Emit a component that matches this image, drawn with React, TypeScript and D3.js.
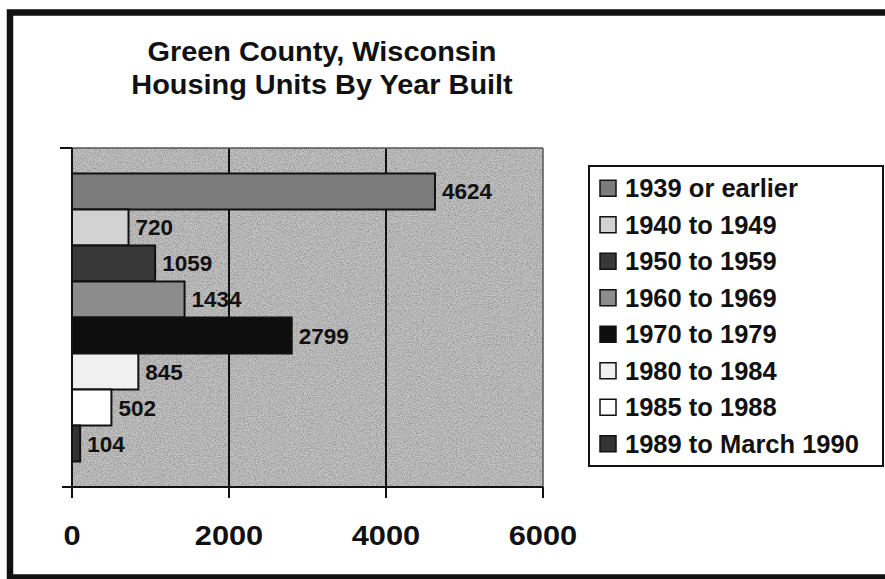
import React from "react";
import * as d3 from "d3";

const titleLines = ["Green County, Wisconsin", "Housing Units By Year Built"];
const categories = ["Green County"];
const seriesNames = [
  "1939 or earlier",
  "1940 to 1949",
  "1950 to 1959",
  "1960 to 1969",
  "1970 to 1979",
  "1980 to 1984",
  "1985 to 1988",
  "1989 to March 1990",
];
const seriesValues = [4624, 720, 1059, 1434, 2799, 845, 502, 104];
const seriesColors = ["#7c7c7c", "#d2d2d2", "#383838", "#8c8c8c", "#0e0e0e", "#f0f0f0", "#ffffff", "#333333"];
const tickValues = [0, 2000, 4000, 6000];

const W = 885;
const H = 579;
const plot = { left: 72, right: 543, top: 148, bottom: 487 };
const FONT = "'Liberation Sans', Arial, sans-serif";

export default function App() {
  const x = d3.scaleLinear().domain([0, 6000]).range([plot.left, plot.right]);
  const yCat = d3
    .scaleBand<string>()
    .domain(categories)
    .range([plot.top, plot.bottom])
    .paddingInner(0)
    .paddingOuter(0.0885);
  const ySer = d3.scaleBand<string>().domain(seriesNames).range([0, yCat.bandwidth()]);

  const legend = { x: 589, y: 166, w: 294, h: 300 };
  const rowH = 36.5;
  const rowTop = legend.y + (legend.h - rowH * seriesNames.length) / 2;

  return (
    <svg
      width={W}
      height={H}
      viewBox={`0 0 ${W} ${H}`}
      style={{ position: "absolute", left: 0, top: 0, background: "#fff" }}
      fontFamily={FONT}
    >
      <defs>
        <filter id="speckle" x="0" y="0" width="100%" height="100%">
          <feTurbulence type="fractalNoise" baseFrequency="0.85" numOctaves="2" seed="7" result="n" />
          <feColorMatrix
            in="n"
            type="matrix"
            values="0 0 0 0 0  0 0 0 0 0  0 0 0 0 0  1.6 0 0 0 -0.55"
          />
        </filter>
      </defs>

      <rect x={10} y={12.5} width={890} height={565} fill="#fff" stroke="#111" strokeWidth={6.5} />

      {titleLines.map((t, i) => (
        <text
          key={t}
          x={322}
          y={61 + i * 33.5}
          textAnchor="middle"
          fontSize={27}
          fontWeight="bold"
          fill="#111"
          transform={`translate(322,0) scale(1.07,1) translate(-322,0)`}
        >
          {t}
        </text>
      ))}

      {/* plot background */}
      <rect x={plot.left} y={plot.top} width={plot.right - plot.left} height={plot.bottom - plot.top} fill="#c6c6c6" />
      <rect
        x={plot.left}
        y={plot.top}
        width={plot.right - plot.left}
        height={plot.bottom - plot.top}
        fill="#000"
        filter="url(#speckle)"
        opacity={0.35}
      />

      {/* gridlines */}
      {tickValues.slice(1, -1).map((v) => (
        <line key={v} x1={x(v)} x2={x(v)} y1={plot.top} y2={plot.bottom} stroke="#111" strokeWidth={2} />
      ))}
      <line x1={plot.left} x2={plot.right} y1={plot.top} y2={plot.top} stroke="#555" strokeWidth={1.5} />
      <line x1={plot.right} x2={plot.right} y1={plot.top} y2={plot.bottom} stroke="#555" strokeWidth={1.5} />

      {/* bars */}
      {categories.map((c) =>
        seriesNames.map((s, i) => {
          const y0 = (yCat(c) ?? 0) + (ySer(s) ?? 0);
          const h = ySer.bandwidth();
          const v = seriesValues[i];
          return (
            <g key={s}>
              <rect
                x={x(0)}
                y={y0}
                width={x(v) - x(0)}
                height={h}
                fill={seriesColors[i]}
                stroke="#111"
                strokeWidth={2}
              />
              <text
                x={x(v) + 7}
                y={y0 + h / 2 + 8}
                fontSize={22.5}
                fontWeight="bold"
                fill="#111"
              >
                {v}
              </text>
            </g>
          );
        })
      )}

      {/* category axis */}
      <line x1={plot.left} x2={plot.left} y1={plot.top} y2={plot.bottom + 11} stroke="#111" strokeWidth={2} />
      <line x1={plot.left - 12} x2={plot.left} y1={plot.top} y2={plot.top} stroke="#111" strokeWidth={2} />
      {/* value axis */}
      <line x1={plot.left - 10} x2={plot.right} y1={plot.bottom} y2={plot.bottom} stroke="#111" strokeWidth={2} />
      {tickValues.map((v) => (
        <g key={v}>
          <line x1={x(v)} x2={x(v)} y1={plot.bottom} y2={plot.bottom + 11} stroke="#111" strokeWidth={2} />
          <text
            x={x(v)}
            y={545}
            textAnchor="middle"
            fontSize={28.5}
            fontWeight="bold"
            fill="#111"
            transform={`translate(${x(v)},0) scale(1.08,1) translate(${-x(v)},0)`}
          >
            {v}
          </text>
        </g>
      ))}

      {/* legend */}
      <rect x={legend.x} y={legend.y} width={legend.w} height={legend.h} fill="#fff" stroke="#111" strokeWidth={2} />
      {seriesNames.map((s, i) => {
        const cy = rowTop + rowH * (i + 0.5);
        return (
          <g key={s}>
            <rect x={600} y={cy - 8} width={16} height={16} fill={seriesColors[i]} stroke="#111" strokeWidth={1.5} />
            <text x={625} y={cy + 9} fontSize={25.5} fontWeight="bold" fill="#111">
              {s}
            </text>
          </g>
        );
      })}
    </svg>
  );
}
